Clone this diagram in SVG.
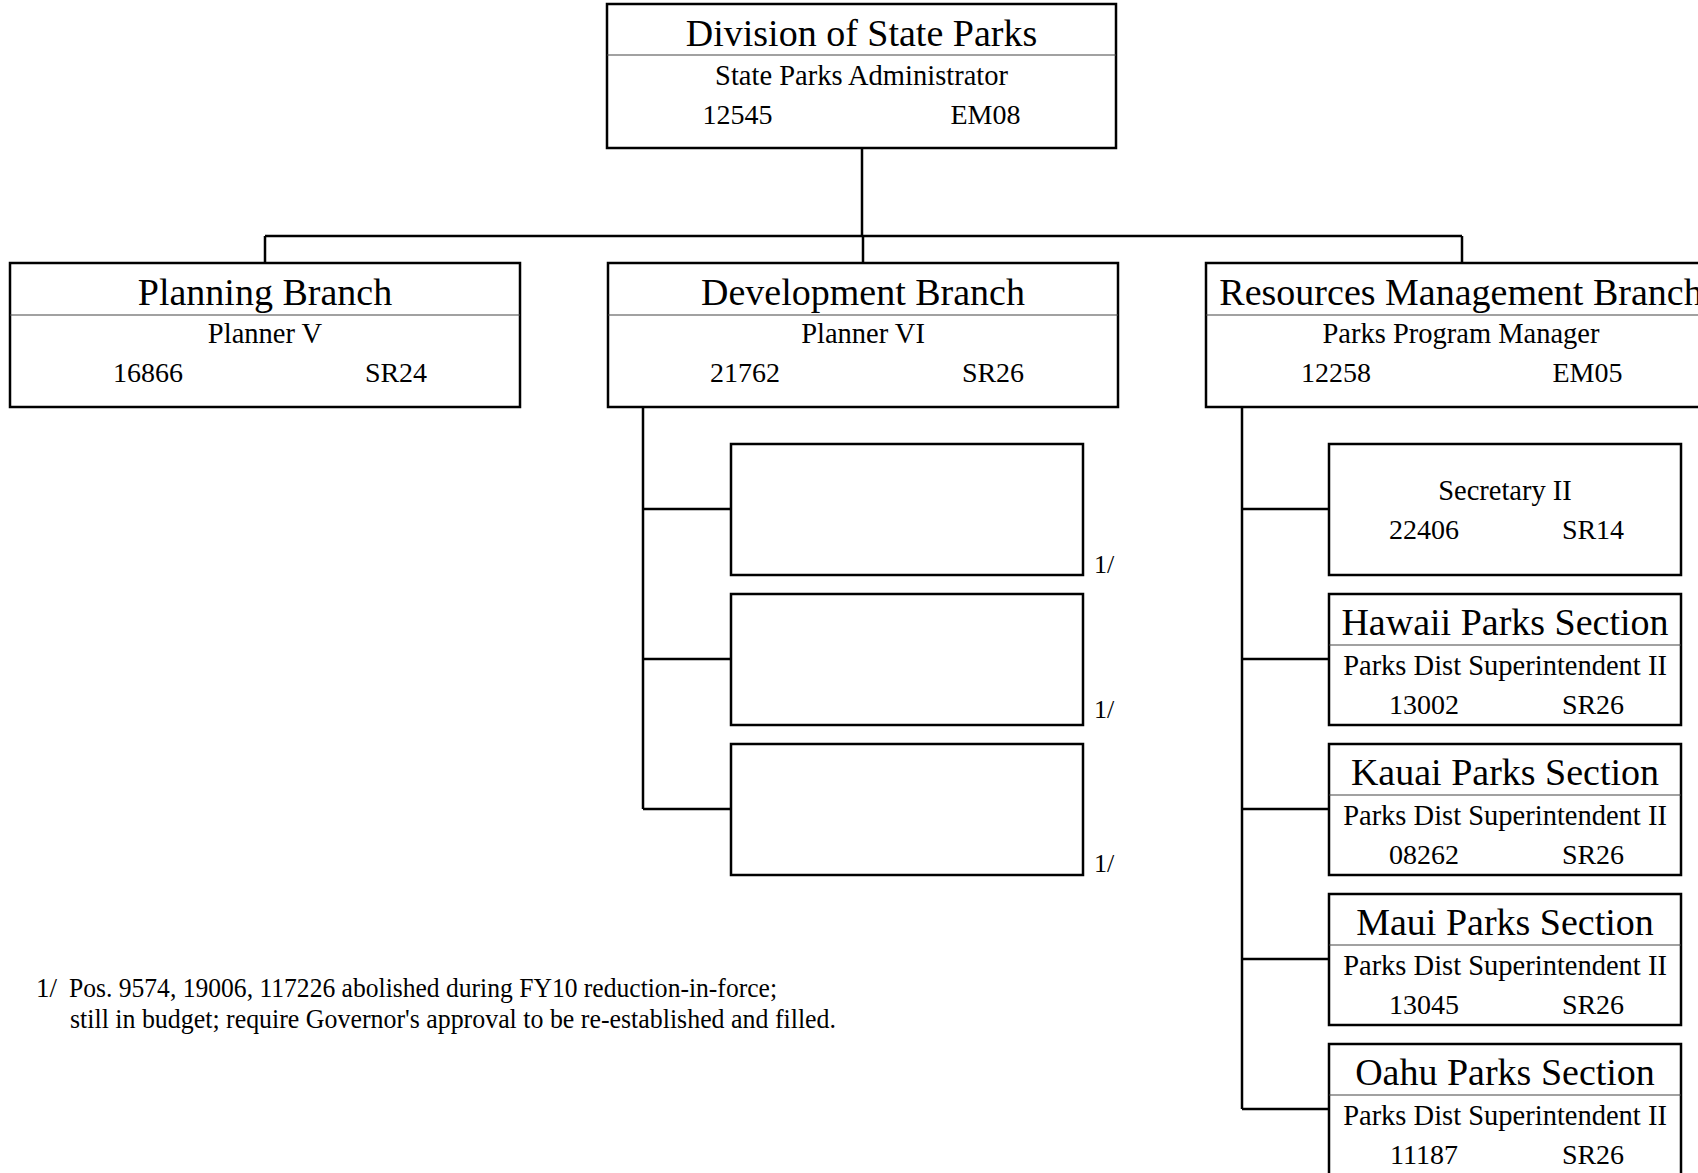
<svg xmlns="http://www.w3.org/2000/svg" width="1698" height="1173" viewBox="0 0 1698 1173">
<style>
.box{fill:#fff;stroke:#000;stroke-width:2.5}
.div{stroke:#444;stroke-width:1.2}
.con{fill:none;stroke:#000;stroke-width:2.5}
text{font-family:"Liberation Serif","Times New Roman",serif;fill:#000}
.t{font-size:38px;text-anchor:middle}
.s{font-size:28.5px;text-anchor:middle}
.n{font-size:28px;text-anchor:middle}
.f{font-size:26px}
.fn{font-size:27px}
</style>
<rect width="1698" height="1173" fill="#fff"/>
<g id="connectors">
<path class="con" d="M862 148 V236 M265 236 H1462 M265 236 V263 M863 236 V263 M1462 236 V263"/>
<path class="con" d="M643 407 V809 M643 509 H731 M643 659 H731 M643 809 H731"/>
<path class="con" d="M1242 407 V1109 M1242 509 H1329 M1242 659 H1329 M1242 809 H1329 M1242 959 H1329 M1242 1109 H1329"/>
</g>
<g id="division">
<rect class="box" x="607" y="4" width="509" height="144"/>
<line class="div" x1="607" y1="55" x2="1116" y2="55"/>
<text class="t" x="861.5" y="45.5">Division of State Parks</text>
<text class="s" x="861.5" y="84.5">State Parks Administrator</text>
<text class="n" x="737.5" y="123.5">12545</text>
<text class="n" x="985.5" y="123.5">EM08</text>
</g>
<g id="planning">
<rect class="box" x="10" y="263" width="510" height="144"/>
<line class="div" x1="10" y1="315" x2="520" y2="315"/>
<text class="t" x="265" y="305">Planning Branch</text>
<text class="s" x="265" y="343">Planner V</text>
<text class="n" x="148" y="382">16866</text>
<text class="n" x="396" y="382">SR24</text>
</g>
<g id="development">
<rect class="box" x="608" y="263" width="510" height="144"/>
<line class="div" x1="608" y1="315" x2="1118" y2="315"/>
<text class="t" x="863" y="305">Development Branch</text>
<text class="s" x="863" y="343">Planner VI</text>
<text class="n" x="745" y="382">21762</text>
<text class="n" x="993" y="382">SR26</text>
</g>
<g id="resources">
<rect class="box" x="1206" y="263" width="510" height="144"/>
<line class="div" x1="1206" y1="315" x2="1716" y2="315"/>
<text class="t" x="1461" y="305">Resources Management Branch</text>
<text class="s" x="1461" y="343">Parks Program Manager</text>
<text class="n" x="1336" y="382">12258</text>
<text class="n" x="1587.5" y="382">EM05</text>
</g>
<g id="vacant1">
<rect class="box" x="731" y="444" width="352" height="131"/>
<text class="f" x="1094" y="573">1/</text>
</g>
<g id="vacant2">
<rect class="box" x="731" y="594" width="352" height="131"/>
<text class="f" x="1094" y="718">1/</text>
</g>
<g id="vacant3">
<rect class="box" x="731" y="744" width="352" height="131"/>
<text class="f" x="1094" y="872">1/</text>
</g>
<g id="secretary">
<rect class="box" x="1329" y="444" width="352" height="131"/>
<text class="s" x="1505" y="500">Secretary II</text>
<text class="n" x="1424" y="539">22406</text>
<text class="n" x="1593" y="539">SR14</text>
</g>
<g id="hawaii">
<rect class="box" x="1329" y="594" width="352" height="131"/>
<line class="div" x1="1329" y1="645" x2="1681" y2="645"/>
<text class="t" x="1505" y="635">Hawaii Parks Section</text>
<text class="s" x="1505" y="675">Parks Dist Superintendent II</text>
<text class="n" x="1424" y="714">13002</text>
<text class="n" x="1593" y="714">SR26</text>
</g>
<g id="kauai">
<rect class="box" x="1329" y="744" width="352" height="131"/>
<line class="div" x1="1329" y1="795" x2="1681" y2="795"/>
<text class="t" x="1505" y="785">Kauai Parks Section</text>
<text class="s" x="1505" y="825">Parks Dist Superintendent II</text>
<text class="n" x="1424" y="864">08262</text>
<text class="n" x="1593" y="864">SR26</text>
</g>
<g id="maui">
<rect class="box" x="1329" y="894" width="352" height="131"/>
<line class="div" x1="1329" y1="945" x2="1681" y2="945"/>
<text class="t" x="1505" y="935">Maui Parks Section</text>
<text class="s" x="1505" y="975">Parks Dist Superintendent II</text>
<text class="n" x="1424" y="1014">13045</text>
<text class="n" x="1593" y="1014">SR26</text>
</g>
<g id="oahu">
<rect class="box" x="1329" y="1044" width="352" height="131"/>
<line class="div" x1="1329" y1="1095" x2="1681" y2="1095"/>
<text class="t" x="1505" y="1085">Oahu Parks Section</text>
<text class="s" x="1505" y="1125">Parks Dist Superintendent II</text>
<text class="n" x="1424" y="1164">11187</text>
<text class="n" x="1593" y="1164">SR26</text>
</g>
<g id="footnote">
<text class="fn" x="36" y="997">1/</text>
<text class="fn" x="69" y="997" textLength="708" lengthAdjust="spacingAndGlyphs">Pos. 9574, 19006, 117226 abolished during FY10 reduction-in-force;</text>
<text class="fn" x="70" y="1028" textLength="766" lengthAdjust="spacingAndGlyphs">still in budget; require Governor's approval to be re-established and filled.</text>
</g>
</svg>
